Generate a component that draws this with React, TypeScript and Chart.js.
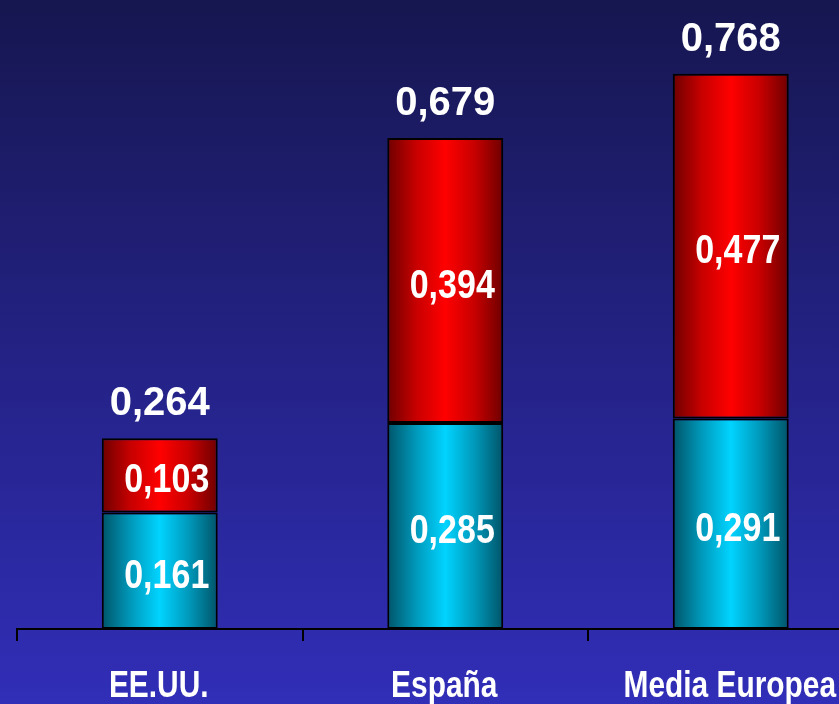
import React, { useEffect, useRef } from "react";
import { Chart, registerables } from "chart.js";

Chart.register(...registerables);

const categories = ["EE.UU.", "España", "Media Europea"];
const bottomValues = [0.161, 0.285, 0.291];
const topValues = [0.103, 0.394, 0.477];
const totalValues = [0.264, 0.679, 0.768];

const fmt = (v: number) => v.toFixed(3).replace(".", ",");

const FONT = "'Liberation Sans', Arial, Helvetica, sans-serif";
const NARROW_SCALE = 0.85;
const CAT_SCALE = 0.83;
const BAR_FRACTION = 0.406;

function barGradient(ctx: any, stops: string[]) {
  const chart = ctx.chart;
  const x = chart.scales?.x;
  if (!x || !chart.chartArea) return stops[2];
  const n = categories.length;
  const center = x.getPixelForValue(ctx.dataIndex);
  const w = (x.width / n) * BAR_FRACTION;
  const g = chart.ctx.createLinearGradient(center - w / 2, 0, center + w / 2, 0);
  g.addColorStop(0, stops[0]);
  g.addColorStop(0.25, stops[1]);
  g.addColorStop(0.5, stops[2]);
  g.addColorStop(0.75, stops[1]);
  g.addColorStop(1, stops[0]);
  return g;
}

const cyanStops = ["#005468", "#0099bb", "#00d4ff"];
const redStops = ["#6e0000", "#c80000", "#ff0000"];

function narrowText(ctx: any, text: string, x: number, y: number, s: number) {
  ctx.save();
  ctx.translate(x, y);
  ctx.scale(s, 1);
  ctx.fillText(text, 0, 0);
  ctx.restore();
}

const bgPlugin = {
  id: "bg",
  beforeDraw(chart: any) {
    const { ctx, width, height } = chart;
    const g = ctx.createLinearGradient(0, 0, 0, height);
    g.addColorStop(0, "rgb(22,22,80)");
    g.addColorStop(1, "rgb(49,46,184)");
    ctx.save();
    ctx.fillStyle = g;
    ctx.fillRect(0, 0, width, height);
    ctx.restore();
  },
};

const labelPlugin = {
  id: "labels",
  afterDraw(chart: any) {
    const { ctx } = chart;
    ctx.save();
    ctx.fillStyle = "#ffffff";
    ctx.textAlign = "center";
    ctx.textBaseline = "alphabetic";
    ctx.font = `bold 40px ${FONT}`;
    chart.data.datasets.forEach((ds: any, di: number) => {
      const meta = chart.getDatasetMeta(di);
      meta.data.forEach((el: any, i: number) => {
        const y = (el.y + el.base) / 2;
        narrowText(ctx, fmt(ds.data[i]), el.x + 7, y + 17, NARROW_SCALE);
      });
    });
    const topMeta = chart.getDatasetMeta(chart.data.datasets.length - 1);
    topMeta.data.forEach((el: any, i: number) => {
      ctx.fillText(fmt(totalValues[i]), el.x, el.y - 23);
    });
    ctx.font = `bold 36px ${FONT}`;
    const xs = chart.scales.x;
    categories.forEach((c, i) => {
      narrowText(ctx, c, xs.getPixelForValue(i) - 1, xs.bottom - 7, CAT_SCALE);
    });
    ctx.restore();
  },
};

export default function App() {
  const ref = useRef<HTMLCanvasElement>(null);
  useEffect(() => {
    if (!ref.current) return;
    const chart = new Chart(ref.current, {
      type: "bar",
      data: {
        labels: categories,
        datasets: [
          {
            data: bottomValues,
            backgroundColor: (c: any) => barGradient(c, cyanStops),
            borderColor: "#000",
            borderWidth: 2,
            borderSkipped: false,
            barPercentage: BAR_FRACTION,
            categoryPercentage: 1,
          },
          {
            data: topValues,
            backgroundColor: (c: any) => barGradient(c, redStops),
            borderColor: "#000",
            borderWidth: 2,
            borderSkipped: false,
            barPercentage: BAR_FRACTION,
            categoryPercentage: 1,
          },
        ],
      },
      options: {
        responsive: false,
        animation: false,
        layout: { padding: { left: 17, right: 6.5, top: 0, bottom: 0 } },
        plugins: { legend: { display: false }, tooltip: { enabled: false } },
        scales: {
          x: {
            stacked: true,
            offset: true,
            afterFit: (s: any) => {
              s.height = 75;
            },
            grid: {
              display: true,
              offset: true,
              drawOnChartArea: false,
              drawTicks: true,
              tickLength: 12,
              color: "#000",
              lineWidth: 2,
            },
            border: { display: true, color: "#000", width: 2 },
            ticks: {
              color: "rgba(0,0,0,0)",
              autoSkip: false,
              maxRotation: 0,
              callback: () => "",
              font: { size: 1 },
            },
          },
          y: {
            stacked: true,
            display: false,
            min: 0,
            max: 0.87,
          },
        },
      },
      plugins: [bgPlugin, labelPlugin],
    });
    return () => chart.destroy();
  }, []);
  return (
    <div style={{ position: "fixed", left: 0, top: 0, width: 839, height: 704, overflow: "hidden" }}>
      <canvas ref={ref} width={880} height={704} style={{ display: "block" }} />
    </div>
  );
}
